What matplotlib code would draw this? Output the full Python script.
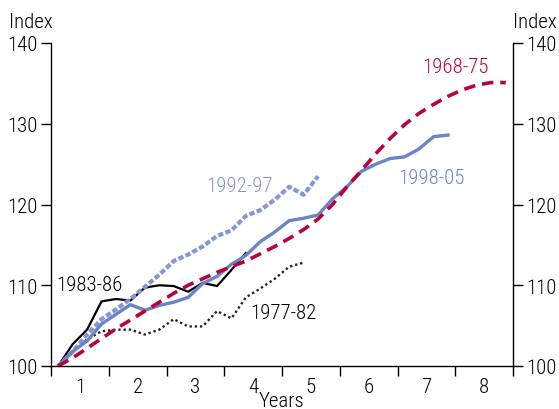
import numpy as np
import matplotlib
matplotlib.use("Agg")
import matplotlib.pyplot as plt
from matplotlib import font_manager

# pick a narrow / condensed sans font if one is installed (light weight preferred)
fp = None
cands = []
for f in font_manager.fontManager.ttflist:
    low = f.fname.lower()
    if ('narrow' in low or 'condensed' in low or 'cond' in low) and f.style == 'normal':
        if 'bold' in low or 'black' in low or 'semi' in low or 'extra' in low or 'medium' in low \
                or 'thin' in low:
            continue
        rank = 5
        if 'liberationsansnarrow' in low.replace('-', '').replace('_', ''):
            rank = 0
        elif 'roboto' in low:
            rank = 1
        elif 'opensans' in low.replace(' ', ''):
            rank = 2
        elif 'dejavu' in low:
            rank = 3
        if 'light' in low:
            rank -= 0.5
        cands.append((rank, f.fname))
cands.sort()
if cands:
    fp = font_manager.FontProperties(fname=cands[0][1])
    fs = 15
else:
    plt.rcParams['font.family'] = ['Liberation Sans', 'DejaVu Sans']
    fp = font_manager.FontProperties(family='Liberation Sans')
    fs = 13.5

def F(size=None):
    p = fp.copy()
    p.set_size(size if size else fs)
    return p

# Quarterly index values (start of cycle = 100)
s1968_75 = [100, 101.0, 102.2, 103.4, 104.6, 105.7, 106.8, 107.9, 109.0, 110.0,
            110.8, 111.6, 112.3, 113.0, 113.9, 114.8, 115.8, 116.9, 118.2, 120.0,
            122.2, 124.2, 126.3, 128.2, 129.9, 131.3, 132.4, 133.4, 134.2, 134.8,
            135.1, 135.1]
s1977_82 = [100, 101.7, 103.3, 104.3, 104.5, 104.5, 103.9, 104.5, 105.8, 104.9,
            104.9, 106.8, 105.9, 108.5, 109.6, 110.8, 112.3, 112.8]
s1983_86 = [100, 102.7, 104.5, 108.0, 108.3, 108.1, 109.7, 110.0, 109.9, 109.2,
            110.3, 109.9, 111.9, 114.0]
s1992_97 = [100, 101.8, 103.9, 105.8, 107.0, 108.3, 109.8, 111.3, 113.0, 113.8,
            114.8, 116.1, 116.8, 118.6, 119.3, 120.6, 122.2, 121.2, 123.5]
s1998_05 = [100, 101.8, 103.1, 105.2, 106.4, 107.6, 106.9, 107.5, 107.9, 108.5,
            110.2, 111.1, 112.6, 113.7, 115.4, 116.6, 118.0, 118.3, 118.7, 120.7,
            122.2, 124.1, 125.0, 125.7, 125.9, 126.9, 128.4, 128.6]

year_labels = ['1', '2', '3', '4', '5', '6', '7', '8']
y_ticks = [100, 110, 120, 130, 140]

def qx(series):
    # quarter midpoints expressed in years
    return (np.arange(len(series)) + 0.5) / 4.0

W, H = 559, 410
fig = plt.figure(figsize=(W / 100, H / 100), dpi=100)
ax = fig.add_axes([51 / W, 1 - 367 / H, (513 - 51) / W, (367 - 44) / H])

crimson = '#b3063f'
blue_solid = '#6b84c6'
blue_dot = '#8497d3'

ax.plot(qx(s1977_82), s1977_82, color='#222222', lw=1.7, ls=(0, (1.0, 1.2)), zorder=3)
ax.plot(qx(s1983_86), s1983_86, color='black', lw=1.6, zorder=3)
ax.plot(qx(s1992_97), s1992_97, color=blue_dot, lw=3.0, ls=(0, (1.3, 0.55)), zorder=4)
ax.plot(qx(s1998_05), s1998_05, color=blue_solid, lw=2.4, zorder=4)
ax.plot(qx(s1968_75), s1968_75, color=crimson, lw=2.6, ls=(0, (3.2, 1.9)), zorder=5)

ax.text(7.0, 137.1, '1968-75', color=crimson, fontproperties=F(), ha='center', va='center')
ax.text(3.26, 122.4, '1992-97', color=blue_dot, fontproperties=F(), ha='center', va='center')
ax.text(6.59, 123.3, '1998-05', color=blue_solid, fontproperties=F(), ha='center', va='center')
ax.text(0.66, 110.1, '1983-86', color='black', fontproperties=F(), ha='center', va='center')
ax.text(4.03, 106.6, '1977-82', color='black', fontproperties=F(), ha='center', va='center')

ax.set_xlim(0, 8)
ax.set_ylim(100, 140)

ax.set_xticks(range(0, 9))
ax.set_xticklabels([])
ax.set_xticks(np.arange(0.5, 8, 1.0), minor=True)
ax.set_xticklabels(year_labels, minor=True)
ax.tick_params(axis='x', which='major', direction='out', length=7, width=1)
ax.tick_params(axis='x', which='minor', length=0, pad=8)

ax.set_yticks(y_ticks)
ax.set_yticklabels([str(v) for v in y_ticks])
ax.tick_params(axis='y', which='major', direction='out', length=7, width=1,
               left=True, right=True, labelleft=True, labelright=True, pad=2.5)

for t in ax.yaxis.get_major_ticks():
    t.label1.set_fontproperties(F())
    t.label2.set_fontproperties(F())
for t in ax.xaxis.get_minor_ticks():
    t.label1.set_fontproperties(F())

ax.spines['top'].set_visible(False)
for s in ['left', 'right', 'bottom']:
    ax.spines[s].set_linewidth(1.0)

fig.text(9 / W, 1 - 13 / H, 'Index', fontproperties=F(), ha='left', va='top')
fig.text(513 / W, 1 - 13 / H, 'Index', fontproperties=F(), ha='left', va='top')
fig.text(281 / W, 1 - 392 / H, 'Years', fontproperties=F(), ha='center', va='top')

fig.savefig('out.png', dpi=100)
